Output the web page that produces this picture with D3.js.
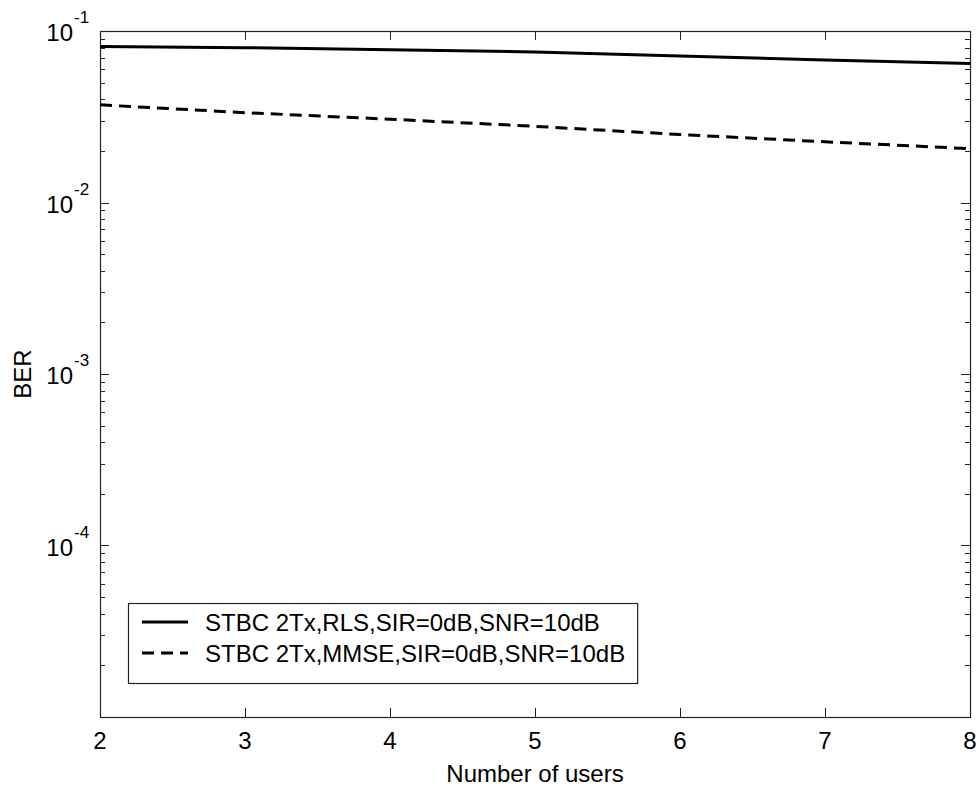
<!DOCTYPE html>
<html>
<head>
<meta charset="utf-8">
<script src="https://cdn.jsdelivr.net/npm/d3@7"></script>
<style>
  body { margin: 0; background: #fff; }
  text { font-family: "Liberation Sans", Arial, sans-serif; fill: #000; }
</style>
</head>
<body>
<svg id="chart" width="976" height="790"></svg>
<script>
// data
const users = [2, 3, 4, 5, 6, 7, 8];
const berRLS = [0.0813, 0.0799, 0.0778, 0.0755, 0.0716, 0.0678, 0.0647];
const berMMSE = [0.0371, 0.0334, 0.0306, 0.0278, 0.0249, 0.0226, 0.0206];
const xTicks = [2, 3, 4, 5, 6, 7, 8];
const yMajor = [1e-1, 1e-2, 1e-3, 1e-4];
const yLabels = ['-1', '-2', '-3', '-4'];
const legendNames = ['STBC 2Tx,RLS,SIR=0dB,SNR=10dB', 'STBC 2Tx,MMSE,SIR=0dB,SNR=10dB'];

const plotL = 100, plotR = 970, plotT = 31, plotB = 717;
const svg = d3.select('#chart');

const x = d3.scaleLinear().domain([2, 8]).range([plotL, plotR]);
const y = d3.scaleLog().domain([1e-5, 1e-1]).range([plotB, plotT]);

const axisColor = '#222';

// minor + major ticks on the log axis
const yAll = y.ticks();
const isMajor = (v) => Math.abs(Math.log10(v) - Math.round(Math.log10(v))) < 1e-6;

const ticksG = svg.append('g').attr('stroke', axisColor).attr('stroke-width', 1);

// left and right ticks, pointing inward
ticksG.selectAll('.yl')
  .data(yAll)
  .join('line')
  .attr('x1', plotL)
  .attr('x2', (d) => plotL + (isMajor(d) ? 9 : 5))
  .attr('y1', (d) => Math.round(y(d)) + 0.5)
  .attr('y2', (d) => Math.round(y(d)) + 0.5);
ticksG.selectAll('.yr')
  .data(yAll)
  .join('line')
  .attr('x1', plotR)
  .attr('x2', (d) => plotR - (isMajor(d) ? 9 : 5))
  .attr('y1', (d) => Math.round(y(d)) + 0.5)
  .attr('y2', (d) => Math.round(y(d)) + 0.5);

// bottom and top ticks
ticksG.selectAll('.xb')
  .data(xTicks)
  .join('line')
  .attr('x1', (d) => Math.round(x(d)) + 0.5)
  .attr('x2', (d) => Math.round(x(d)) + 0.5)
  .attr('y1', plotB)
  .attr('y2', plotB - 9);
ticksG.selectAll('.xt')
  .data(xTicks)
  .join('line')
  .attr('x1', (d) => Math.round(x(d)) + 0.5)
  .attr('x2', (d) => Math.round(x(d)) + 0.5)
  .attr('y1', plotT)
  .attr('y2', plotT + 9);

// frame
svg.append('rect')
  .attr('x', plotL + 0.5)
  .attr('y', plotT + 0.5)
  .attr('width', plotR - plotL)
  .attr('height', plotB - plotT)
  .attr('fill', 'none')
  .attr('stroke', axisColor)
  .attr('stroke-width', 1.2);

// x tick labels
svg.append('g')
  .selectAll('text')
  .data(xTicks)
  .join('text')
  .attr('x', (d) => x(d))
  .attr('y', 749)
  .attr('text-anchor', 'middle')
  .attr('font-size', 24)
  .text((d) => d);

// y tick labels as 10^k
const yl = svg.append('g')
  .selectAll('g')
  .data(yMajor)
  .join('g')
  .attr('transform', (d) => `translate(0,${y(d)})`);
yl.append('text')
  .attr('x', 73)
  .attr('y', 10)
  .attr('text-anchor', 'end')
  .attr('font-size', 24)
  .text('10');
yl.append('text')
  .attr('x', 74)
  .attr('y', -8)
  .attr('font-size', 17)
  .text((d, i) => yLabels[i]);

// axis titles
svg.append('text')
  .attr('x', (plotL + plotR) / 2)
  .attr('y', 782)
  .attr('text-anchor', 'middle')
  .attr('font-size', 24)
  .text('Number of users');
svg.append('text')
  .attr('transform', `translate(31,${(plotT + plotB) / 2}) rotate(-90)`)
  .attr('text-anchor', 'middle')
  .attr('font-size', 24)
  .text('BER');

// curves
const line = d3.line()
  .x((d) => x(d[0]))
  .y((d) => y(d[1]));

svg.append('path')
  .datum(d3.zip(users, berRLS))
  .attr('d', line)
  .attr('fill', 'none')
  .attr('stroke', '#000')
  .attr('stroke-width', 3);

svg.append('path')
  .datum(d3.zip(users, berMMSE))
  .attr('d', line)
  .attr('fill', 'none')
  .attr('stroke', '#000')
  .attr('stroke-width', 3)
  .attr('stroke-dasharray', '12,7');

// legend
const lg = svg.append('g');
const box = lg.append('rect')
  .attr('x', 128.5)
  .attr('y', 603.5)
  .attr('height', 80)
  .attr('fill', '#fff')
  .attr('stroke', axisColor)
  .attr('stroke-width', 1.2);

let maxW = 0;
legendNames.forEach((name, i) => {
  const cy = 622 + i * 31;
  lg.append('line')
    .attr('x1', 142)
    .attr('x2', 188)
    .attr('y1', cy)
    .attr('y2', cy)
    .attr('stroke', '#000')
    .attr('stroke-width', 3)
    .attr('stroke-dasharray', i === 1 ? '12,7' : null);
  const t = lg.append('text')
    .attr('x', 205)
    .attr('y', cy + 9)
    .attr('font-size', 24)
    .text(name);
  maxW = Math.max(maxW, t.node().getComputedTextLength());
});
box.attr('width', 205 + maxW + 12 - 128);
</script>
</body>
</html>
